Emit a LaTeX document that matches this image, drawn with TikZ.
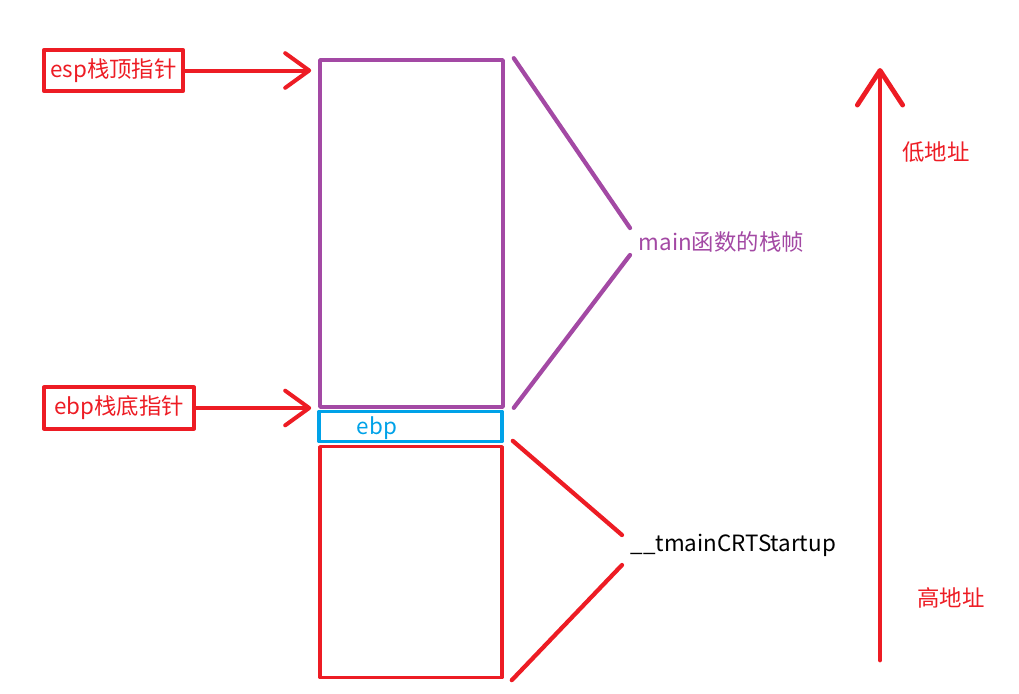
\documentclass[tikz,border=0pt]{standalone}
\usepackage{fontspec}
\setmainfont{Noto Sans CJK SC}
\usetikzlibrary{arrows.meta,calc,positioning}
\definecolor{ptrred}{RGB}{237,28,36}
\definecolor{framepurple}{RGB}{163,73,164}
\definecolor{ebpblue}{RGB}{0,162,232}

\begin{document}
\begin{tikzpicture}[x=0.75pt, y=-0.75pt, line cap=round, line join=round, font=\fontsize{16.8}{19}\selectfont]
    \useasboundingbox (0,0) rectangle (1019,693);

    \tikzset{
        ptrbox/.style={draw=ptrred, line width=3pt, text=ptrred, inner sep=0pt, minimum height=31pt},
        frame/.style={draw=#1, line width=2.7pt, inner sep=0pt},
        ptr/.style={draw=ptrred, line width=3pt, -{Straight Barb[length=18pt,width=26pt,round]}},
        addr/.style={draw=ptrred, line width=3.6pt, -{Straight Barb[length=26pt,width=34pt,round]}},
        bracket/.style={draw=#1, line width=3.2pt}
    }

    % Stack frames
    \node[frame=framepurple, minimum width=137.25pt, minimum height=260.25pt] (mainframe) at (411.5,233.5) {};
    \node[frame=ebpblue, minimum width=137.25pt, minimum height=22.5pt] (ebpslot) at (410.5,426.5) {};
    \node[frame=ptrred, minimum width=136.5pt, minimum height=173pt] (crtframe) at (411,562) {};
    \node[text=ebpblue] (ebptext) at (377,428) {ebp};

    % Pointers
    \node[ptrbox, minimum width=104pt] (esp) at (113.5,70.5) {esp栈顶指针};
    \node[ptrbox, minimum width=112.5pt] (ebp) at (119,408) {ebp栈底指针};
    \draw[ptr] (esp) -- ($(esp.east -| mainframe.west)+(-7,0)$);
    \draw[ptr] (ebp) -- ($(ebp.east -| mainframe.west)+(-7,0)$);

    % Frame labels
    \node[text=framepurple, anchor=west] (mainlabel) at (634,242) {main函数的栈帧};
    \node[anchor=west] (crtlabel) at (626,545) {\_\_tmainCRTStartup};
    \draw[bracket=framepurple] ($(mainframe.north east)+(9,0)$) -- ($(mainlabel.west)+(-4,-14)$);
    \draw[bracket=framepurple] ($(mainlabel.west)+(-4,13)$) -- ($(mainframe.south east)+(9,-1)$);
    \draw[bracket=ptrred] ($(crtframe.north east)+(9,-4)$) -- ($(crtlabel.west)+(-4,-10)$);
    \draw[bracket=ptrred] ($(crtlabel.west)+(-4,20)$) -- ($(crtframe.south east)+(8,1)$);

    % Address direction
    \coordinate (high) at (880,660);
    \coordinate (low) at (880,68);
    \draw[addr] (high) -- (low);
    \node[text=ptrred] (lowlabel) at (936,152) {低地址};
    \node[text=ptrred] (highlabel) at (951,598) {高地址};
\end{tikzpicture}
\end{document}
